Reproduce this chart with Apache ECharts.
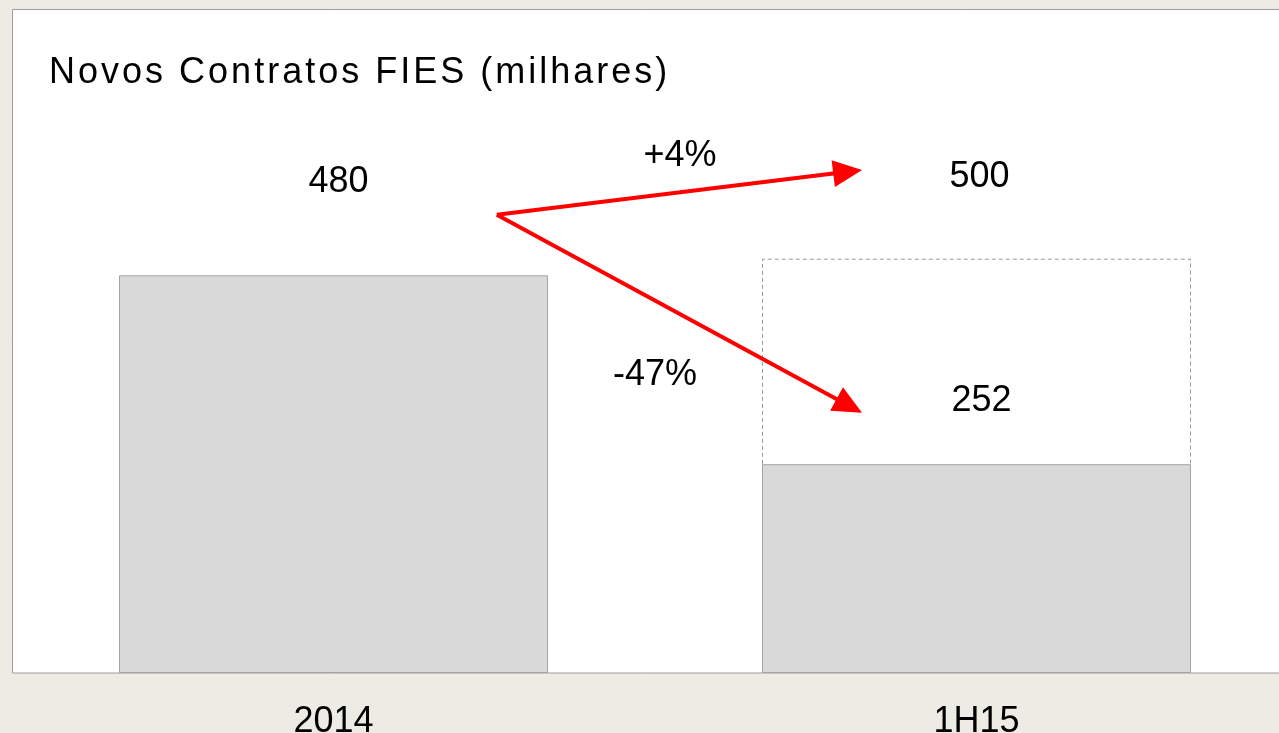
<!DOCTYPE html>
<html>
<head>
<meta charset="utf-8">
<script src="https://cdn.jsdelivr.net/npm/echarts@6/dist/echarts.min.js"></script>
<style>
	html, body { margin: 0; padding: 0; background: #ecebe4; }
	#main { width: 1279px; height: 733px; }
</style>
</head>
<body>
<div id="main"></div>
<script>
var categories = ['2014', '1H15'];
var actual = [480, 252];          // barras cinzas
var target = [null, 500];         // caixa tracejada 1H15
var labelDistance = [75, 45];
var targetLabelDistance = 64;

// anotações (posição em categoria fracionária, valor)
var arrowStart = [0.254, 553];
var arrowEnds = [[0.822, 607], [0.822, 314]];
var pctTexts = ['+4%', '-47%'];
var pctPos = [[0.539, 624], [0.5, 360]];

var font = 'Liberation Sans, Arial, sans-serif';
var chart = echarts.init(document.getElementById('main'));

// título com espaçamento entre letras (hair space)
var titleText = 'Novos Contratos FIES (milhares)'.split('').join('\u200A');

var option = {
	backgroundColor: '#ecebe4',
	animation: false,
	title: {
		text: titleText,
		left: 44, top: 50,
		textStyle: { fontFamily: font, fontSize: 36, fontWeight: 'normal', color: '#000' }
	},
	grid: { left: 12, top: 93, width: 1286, height: 580, outerBoundsMode: 'none', containLabel: false },
	xAxis: {
		type: 'category',
		data: categories,
		axisLine: { show: false },
		axisTick: { show: false },
		axisLabel: { fontFamily: font, fontSize: 36, color: '#000', margin: 31 }
	},
	yAxis: { type: 'value', min: 0, max: 700, show: false },
	series: [
		{
			type: 'bar',
			data: target,
			barWidth: 429,
			z: 1,
			itemStyle: { color: 'rgba(255,255,255,0)', borderColor: '#999', borderWidth: 1, borderType: [4, 3] },
			label: {
				show: true, position: 'top', distance: targetLabelDistance, offset: [3, 0],
				fontFamily: font, fontSize: 36, color: '#000'
			}
		},
		{
			type: 'bar',
			data: actual.map(function (v, i) {
				return { value: v, label: { distance: labelDistance[i] } };
			}),
			barWidth: 429,
			barGap: '-100%',
			z: 2,
			itemStyle: { color: '#d9d9d9', borderColor: '#a3a3a3', borderWidth: 1 },
			label: {
				show: true, position: 'top', offset: [5, 0],
				fontFamily: font, fontSize: 36, color: '#000'
			}
		}
	]
};
chart.setOption(option);

function toPx(p) {
	var a = chart.convertToPixel({ gridIndex: 0 }, [0, p[1]]);
	var b = chart.convertToPixel({ gridIndex: 0 }, [1, p[1]]);
	return [a[0] + (b[0] - a[0]) * p[0], a[1]];
}

var elements = [{
	type: 'rect', z: -10, silent: true,
	shape: { x: 12.5, y: 9.5, width: 1300, height: 663.5 },
	style: { fill: '#fff', stroke: '#9c9c9c', lineWidth: 1 }
}];
var s = toPx(arrowStart);
arrowEnds.forEach(function (e) {
	var t = toPx(e);
	var dx = t[0] - s[0], dy = t[1] - s[1];
	var len = Math.sqrt(dx * dx + dy * dy);
	var ux = dx / len, uy = dy / len;
	var headL = 29, headW = 13.5;
	var bx = t[0] - ux * headL, by = t[1] - uy * headL;
	elements.push({
		type: 'line', z: 100,
		shape: { x1: s[0], y1: s[1], x2: bx + ux * 2, y2: by + uy * 2 },
		style: { stroke: '#ff0000', lineWidth: 4 }
	});
	elements.push({
		type: 'polygon', z: 100,
		shape: { points: [t, [bx - uy * headW, by + ux * headW], [bx + uy * headW, by - ux * headW]] },
		style: { fill: '#ff0000' }
	});
});
pctTexts.forEach(function (txt, i) {
	var p = toPx(pctPos[i]);
	elements.push({
		type: 'text', z: 100, x: p[0], y: p[1],
		style: { text: txt, fontFamily: font, fontSize: 36, fill: '#000', align: 'center', verticalAlign: 'middle' }
	});
});
chart.setOption({ graphic: elements });
</script>
</body>
</html>
